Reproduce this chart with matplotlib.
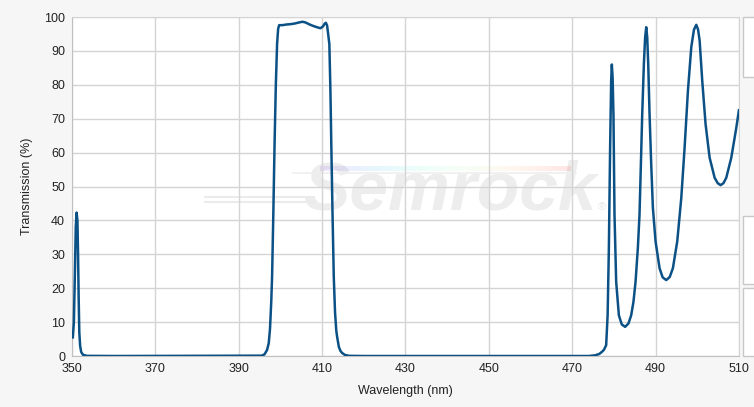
import numpy as np
import matplotlib
matplotlib.use('Agg')
import matplotlib.pyplot as plt
from matplotlib.patches import Rectangle

# wavelength (nm) / transmission (%)
wavelength = [350.2, 350.45, 350.7, 350.9, 351.1, 351.3, 351.45, 351.6, 351.75, 351.95,
              352.2, 352.6, 353.5, 360.0,
              395.5, 396.2, 396.8, 397.2, 397.5, 397.8, 398.0, 398.3, 398.6, 398.9,
              399.2, 399.45, 399.7, 400.5, 401.5, 402.5, 403.5, 404.5, 405.3, 406.0,
              407.0, 408.0, 409.0, 409.6, 410.2, 410.6, 410.9, 411.2, 411.5, 411.74,
              412.0, 412.2, 412.5, 412.8, 413.1, 413.4, 413.6, 414.0, 414.4, 414.8,
              415.5, 416.5, 420.0,
              474.0, 475.5, 476.5, 477.2, 477.6, 478.0, 478.15, 478.5, 478.8, 479.1,
              479.35, 479.51, 479.7, 479.9, 480.15, 480.55, 481.2, 481.9, 482.7, 483.5,
              484.15, 484.7, 485.2, 485.75, 486.15, 486.48, 486.8, 487.2, 487.5, 487.76,
              488.0, 488.24, 488.56, 488.96, 489.36, 490.0, 490.96, 491.7, 492.56, 493.4,
              494.16, 495.2, 496.17, 496.97, 497.77, 498.57, 499.2, 499.77, 500.2, 500.57,
              501.2, 502.0, 502.97, 504.17, 504.9, 505.6, 506.3, 506.97, 508.17, 509.38,
              510.0]
transmission = [5.5, 10, 25, 38, 42.3, 40, 30, 17, 7, 3,
                1.2, 0.4, 0.05, 0,
                0.1, 0.5, 1.8, 3.8, 8, 16, 23.4, 42, 62.8, 80,
                92, 96.5, 97.6, 97.6, 97.8, 97.9, 98.1, 98.4, 98.6, 98.4,
                97.8, 97.3, 96.9, 96.7, 97.2, 98.0, 98.3, 97.5, 94.5, 92,
                78, 63, 42, 23.4, 13, 7.5, 5.7, 2.8, 1.5, 0.9,
                0.3, 0.05, 0,
                0, 0.2, 0.6, 1.3, 1.8, 2.8, 3.2, 12, 31.8, 61.5,
                81.2, 86.0, 82, 71.3, 41.7, 21.9, 12, 9.3, 8.6, 9.6,
                12, 16, 21.9, 31.8, 41.7, 56.5, 71.3, 86.2, 94, 97.0,
                94, 86.2, 71.3, 56.5, 43.7, 33.8, 25.9, 23.2, 22.4, 23.3,
                25.9, 33.8, 46.6, 61.5, 78.3, 91.1, 96.2, 97.7, 96.3, 93.1,
                81.2, 68.4, 58.5, 52.6, 51.0, 50.4, 51.0, 52.6, 58.5, 67.4,
                72.5]

x_ticks = [350, 370, 390, 410, 430, 450, 470, 490, 510]
y_ticks = [0, 10, 20, 30, 40, 50, 60, 70, 80, 90, 100]

plt.rcParams['font.family'] = ['Liberation Sans', 'DejaVu Sans']

fig = plt.figure(figsize=(7.54, 4.07), dpi=100)
fig.patch.set_facecolor('#f6f6f6')
ax = fig.add_axes([0.0955, 0.1253, 0.8845, 0.8329])
ax.set_facecolor('white')

# watermark
ax.text(0.567, 0.485, 'Semrock', transform=ax.transAxes, fontsize=50, fontweight='bold',
        fontstyle='italic', color='#ededed', ha='center', va='center', zorder=0)
ax.text(0.795, 0.44, '\u00ae', transform=ax.transAxes, fontsize=8, color='#e6e6e6',
        ha='center', va='center', zorder=0)
grad = np.linspace(0, 1, 256).reshape(1, -1)
ax.imshow(grad, extent=[409.6, 469.6, 54.6, 56.0], aspect='auto', cmap='rainbow',
          alpha=0.1, zorder=0)
ax.plot([403, 471], [54.0, 54.0], color='#efefef', lw=1.2, zorder=0)
ax.plot([382, 408], [46.8, 46.8], color='#ebebeb', lw=1.5, zorder=0)
ax.plot([382, 408], [45.4, 45.4], color='#ebebeb', lw=1.5, zorder=0)

ax.plot(wavelength, transmission, color='#0b5185', lw=1.8, zorder=3,
        solid_joinstyle='round')

ax.set_xlim(350, 510)
ax.set_ylim(0, 100)
ax.set_xticks(x_ticks)
ax.set_yticks(y_ticks)
ax.grid(True, color='#d4d4d4', lw=1)
ax.set_axisbelow(True)
ax.tick_params(length=0, labelsize=9, colors='#222222', pad=5)
for s in ax.spines.values():
    s.set_color('#d4d4d4')
ax.spines['left'].set_color('#c0c0c0')
ax.spines['bottom'].set_color('#c0c0c0')
ax.set_xlabel('Wavelength (nm)', fontsize=9, color='#222222', labelpad=7)
ax.set_ylabel('Transmission (%)', fontsize=9, color='#222222', labelpad=8)

# side panels at the right edge
for y0, y1 in [(17, 77), (216, 284), (288, 356)]:
    fig.patches.append(Rectangle((743 / 754, 1 - y1 / 407), 0.02, (y1 - y0) / 407,
                                 transform=fig.transFigure, facecolor='white',
                                 edgecolor='#c8c8c8', lw=1))

fig.savefig('out.png', dpi=100, facecolor=fig.get_facecolor())
